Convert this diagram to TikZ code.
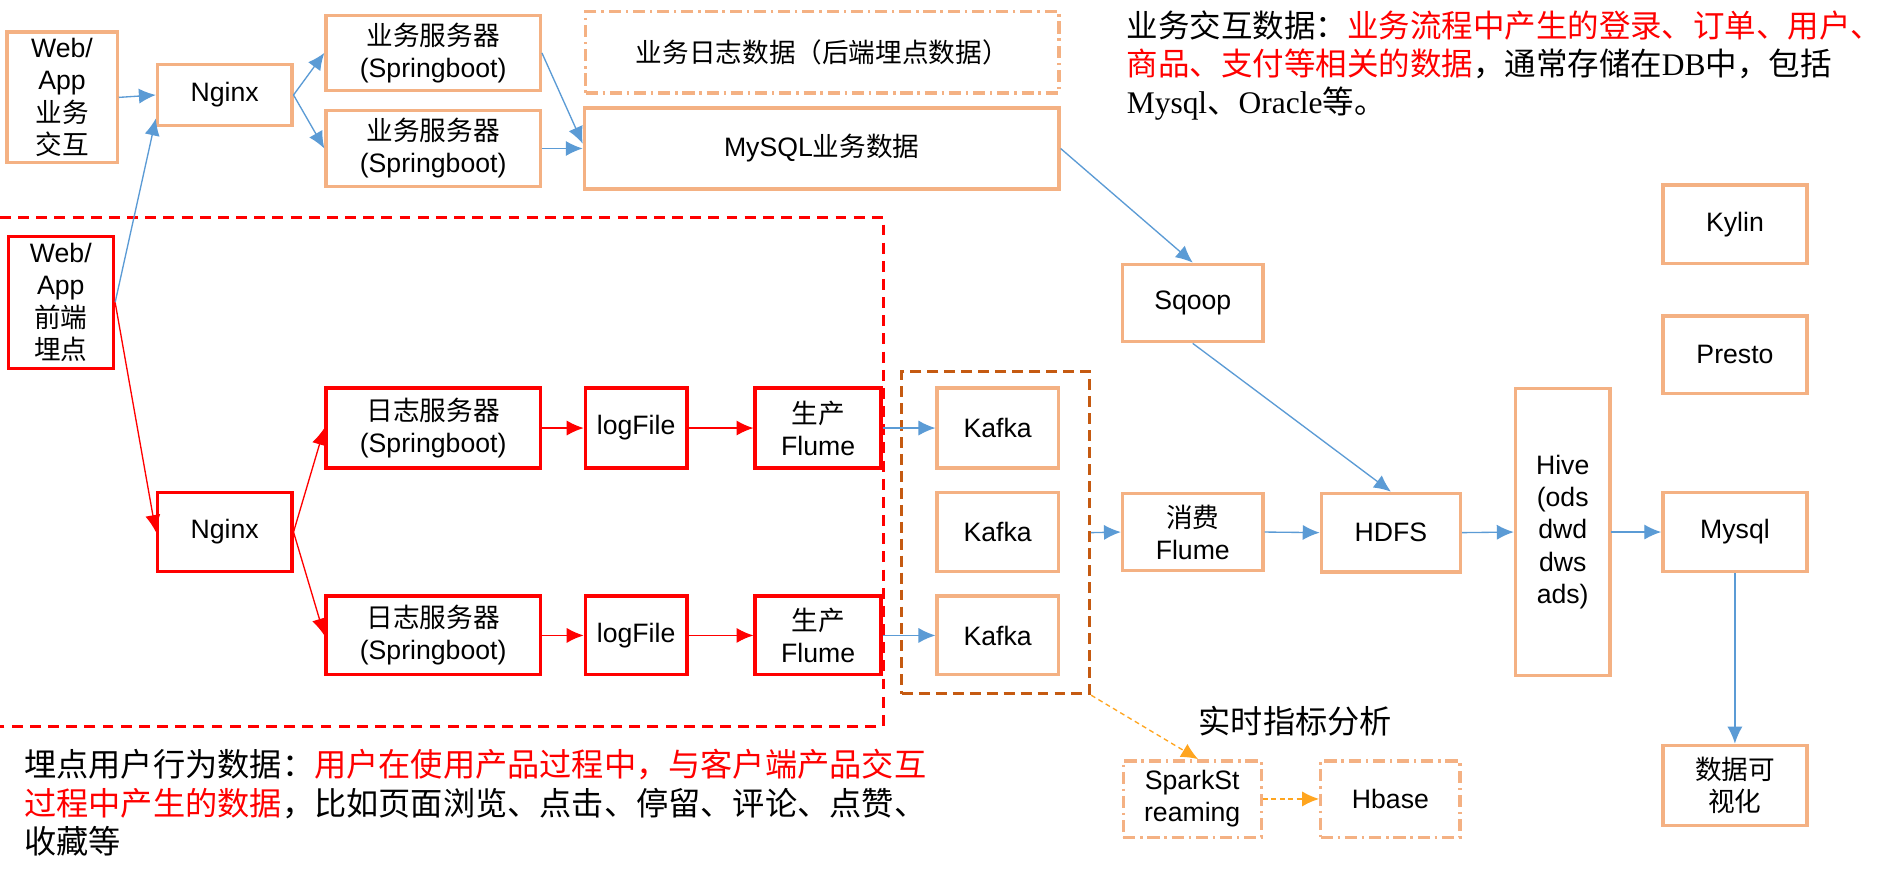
\documentclass[tikz,border=0pt]{standalone}
\usepackage{fontspec}
\setmainfont{Liberation Sans}
\newfontfamily\cjk{Noto Sans CJK SC}
\newfontfamily\tms{Liberation Serif}
\usetikzlibrary{arrows.meta,calc}
\definecolor{boxor}{HTML}{F4B183}
\definecolor{kafkagrp}{HTML}{C55A11}
\definecolor{blueln}{HTML}{5B9BD5}
\definecolor{orln}{HTML}{FFA51F}
\newcommand\bfs{\fontsize{22pt}{26.5pt}\selectfont}
\newcommand\nfs{\fontsize{26pt}{31pt}\selectfont}
\newcommand\mfs{\fontsize{26.6pt}{32pt}\selectfont}
\tikzset{
  obox/.style={draw=boxor, line width=2.7pt, inner sep=0pt, align=center, font=\bfs, text=black},
  rbox/.style={obox, draw=red},
  ddbox/.style={obox, dash pattern=on 10pt off 4pt on 2pt off 4pt},
  grpbox/.style={draw=kafkagrp, line width=2.5pt, dash pattern=on 9pt off 5pt, inner sep=0pt},
  bl/.style={draw=blueln, line width=1.1pt, -{Latex[length=14pt,width=12.5pt]}},
  rl/.style={draw=red, line width=1.1pt, -{Latex[length=14pt,width=12.5pt]}},
  ol/.style={draw=orln, line width=1.1pt, dash pattern=on 4pt off 3pt, -{Latex[length=14pt,width=12.5pt]}},
  note/.style={inner sep=0pt, anchor=base west, font=\nfs},
  note2/.style={inner sep=0pt, anchor=base west, font=\mfs},
}
\begin{document}
\begin{tikzpicture}[x=1pt,y=-1pt]
\useasboundingbox[fill=white] (0,0) rectangle (1560,717);
\begin{scope}[xscale=0.995,yscale=0.993]

% red dashed region
\draw[red, line width=2.5pt, dash pattern=on 9pt off 6pt] (0,181) -- (733,181) -- (733,604) -- (0,604);

% top business flow
\node[obox, minimum width=91pt, minimum height=108pt] (wa1) at (51.5,81) {Web/\\App\\{\cjk 业务}\\{\cjk 交互}};
\node[obox, minimum width=111pt, minimum height=50pt] (ng1) at (186.5,79) {Nginx};
\node[obox, minimum width=177pt, minimum height=62pt] (ys1) at (359.5,44) {{\cjk 业务服务器}\\(Springboot)};
\node[obox, minimum width=177pt, minimum height=63pt] (ys2) at (359.5,123.5) {{\cjk 业务服务器}\\(Springboot)};
\node[ddbox, minimum width=391pt, minimum height=67pt] (logd) at (682.5,43.5) {{\cjk 业务日志数据（后端埋点数据）}};
\node[obox, minimum width=392pt, minimum height=67pt] (mysqlb) at (682,123.5) {MySQL{\cjk 业务数据}};

% front-end tracking flow
\node[rbox, minimum width=87pt, minimum height=109pt] (wa2) at (50.5,251.5) {Web/\\App\\{\cjk 前端}\\{\cjk 埋点}};
\node[rbox, minimum width=111pt, minimum height=65pt] (ng2) at (186.5,442.5) {Nginx};
\node[rbox, minimum width=177pt, minimum height=66pt] (rz1) at (359.5,356) {{\cjk 日志服务器}\\(Springboot)};
\node[rbox, minimum width=84pt, minimum height=66pt] (lf1) at (528,356) {logFile};
\node[rbox, minimum width=104pt, minimum height=66pt] (fl1) at (679,356) {{\cjk 生产}\\Flume};
\node[rbox, minimum width=177pt, minimum height=65pt] (rz2) at (359.5,528.5) {{\cjk 日志服务器}\\(Springboot)};
\node[rbox, minimum width=84pt, minimum height=65pt] (lf2) at (528,528.5) {logFile};
\node[rbox, minimum width=104pt, minimum height=65pt] (fl2) at (679,528.5) {{\cjk 生产}\\Flume};

% kafka group
\node[grpbox, minimum width=155pt, minimum height=266pt] (kg) at (826.5,443) {};
\node[obox, minimum width=100pt, minimum height=66pt] (k1) at (828,356) {Kafka};
\node[obox, minimum width=100pt, minimum height=65pt] (k2) at (828,442.5) {Kafka};
\node[obox, minimum width=100pt, minimum height=65pt] (k3) at (828,528.5) {Kafka};

% right part
\node[obox, minimum width=116pt, minimum height=64pt] (sq) at (990,252) {Sqoop};
\node[obox, minimum width=116pt, minimum height=64pt] (xf) at (990,442.5) {{\cjk 消费}\\Flume};
\node[obox, minimum width=115pt, minimum height=65pt] (hdfs) at (1154.5,443) {HDFS};
\node[obox, minimum width=78pt, minimum height=237pt] (hive) at (1297,442.5) {Hive\\(ods\\dwd\\dws\\ads)};
\node[obox, minimum width=119pt, minimum height=65pt] (kylin) at (1440,186.5) {Kylin};
\node[obox, minimum width=119pt, minimum height=64pt] (presto) at (1440,295) {Presto};
\node[obox, minimum width=119pt, minimum height=65pt] (mysql) at (1440,442.5) {Mysql};
\node[obox, minimum width=119pt, minimum height=66pt] (vis) at (1440,653) {{\cjk 数据可}\\{\cjk 视化}};
\node[ddbox, minimum width=114pt, minimum height=63pt] (spark) at (989.5,664.5) {SparkSt\\reaming};
\node[ddbox, minimum width=115pt, minimum height=63pt] (hbase) at (1154,664.5) {Hbase};
\node[inner sep=0pt, font=\mfs] (rt) at (1075,600) {{\cjk 实时指标分析}};

% notes
\node[note] (na) at (935,31) {{\cjk 业务交互数据：}{\color{red}\cjk 业务流程中产生的登录、订单、用户、}};
\node[note] (nb) at (935,63) {{\color{red}\cjk 商品、支付等相关的数据}{\cjk ，通常存储在}{\tms DB}{\cjk 中，包括}};
\node[note] (nc) at (935,94) {{\tms Mysql}{\cjk 、}{\tms Oracle}{\cjk 等。}};
\node[note2] (nd) at (20,646) {{\cjk 埋点用户行为数据：}{\color{red}\cjk 用户在使用产品过程中，与客户端产品交互}};
\node[note2] (ne) at (20,678) {{\color{red}\cjk 过程中产生的数据}{\cjk ，比如页面浏览、点击、停留、评论、点赞、}};
\node[note2] (nf) at (20,710) {{\cjk 收藏等}};

% blue connectors
\draw[bl] (wa1.east) -- (ng1.west);
\draw[bl] (wa2.east) -- ($(ng1.south west)+(0,-7)$);
\draw[bl] (ng1.east) -- (ys1.west);
\draw[bl] (ng1.east) -- (ys2.west);
\draw[bl] (ys1.east) -- ($(mysqlb.west)+(0,-4)$);
\draw[bl] (ys2.east) -- (mysqlb.west);
\draw[bl] (mysqlb.east) -- (sq.north);
\draw[bl] (sq.south) -- (hdfs.north);
\draw[bl] (fl1.east) -- (k1.west);
\draw[bl] (fl2.east) -- (k3.west);
\draw[bl] (kg.east) -- (xf.west);
\draw[bl] (xf.east) -- (hdfs.west);
\draw[bl] (hdfs.east) -- (hive.west);
\draw[bl] (hive.east) -- (mysql.west);
\draw[bl] (mysql.south) -- (vis.north);

% red connectors
\draw[rl] (wa2.east) -- (ng2.west);
\draw[rl] (ng2.east) -- (rz1.west);
\draw[rl] (ng2.east) -- (rz2.west);
\draw[rl] (rz1.east) -- (lf1.west);
\draw[rl] (lf1.east) -- (fl1.west);
\draw[rl] (rz2.east) -- (lf2.west);
\draw[rl] (lf2.east) -- (fl2.west);

% orange dashed connectors
\draw[ol] (kg.south east) -- ($(spark.north)+(5,0)$);
\draw[ol] (spark.east) -- (hbase.west);
\end{scope}
\end{tikzpicture}
\end{document}
